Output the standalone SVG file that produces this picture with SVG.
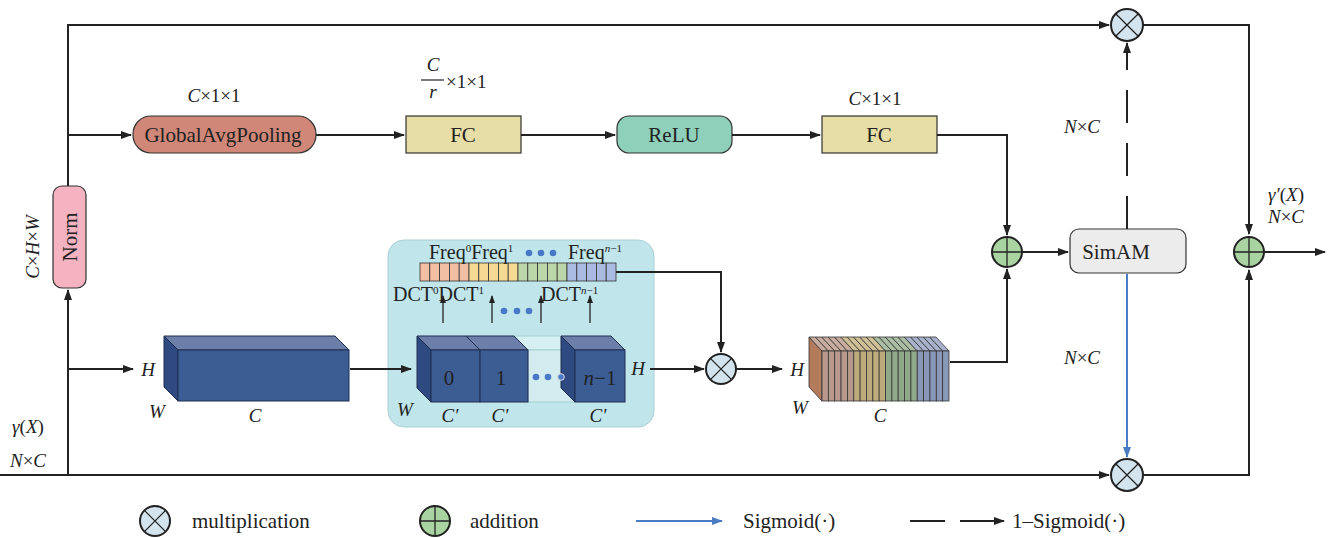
<svg xmlns="http://www.w3.org/2000/svg" width="1334" height="538" viewBox="0 0 1334 538" font-family="'Liberation Serif', 'DejaVu Serif', serif">
<defs>
<marker id="ah" markerWidth="11" markerHeight="8" refX="10" refY="4" orient="auto" markerUnits="userSpaceOnUse"><path d="M0,0 L11,4 L0,8 z" fill="#222"/></marker>
<marker id="ahs" markerWidth="8" markerHeight="6" refX="7" refY="3" orient="auto" markerUnits="userSpaceOnUse"><path d="M0,0 L8,3 L0,6 z" fill="#222"/></marker>
<marker id="ahb" markerWidth="11" markerHeight="8" refX="10" refY="4" orient="auto" markerUnits="userSpaceOnUse"><path d="M0,0 L11,4 L0,8 z" fill="#4a7cc4"/></marker>
</defs>
<style>
text{fill:#222;}
.lbl{font-size:21px;text-anchor:middle;}
.it{font-style:italic;}
.dim{font-size:19px;}
.lg{font-size:21px;}
.fq{font-size:20px;}
.ln{fill:none;stroke:#222;stroke-width:2;}
.thin{fill:none;stroke:#222;stroke-width:1.3;}
.box{stroke:#333;stroke-width:1.2;}
.mul{fill:#d3e4ef;stroke:#222;stroke-width:2;}
.add{fill:#a9d3a0;stroke:#222;stroke-width:2;}
.cf{fill:#3c5c94;stroke:#1e2e50;stroke-width:1;}
.ct{fill:#6b7fa8;stroke:#1e2e50;stroke-width:1;}
.cs{fill:#2f4a80;stroke:#1e2e50;stroke-width:1;}
.dot{fill:#4a78c8;}
</style>

<g id="norm">
<rect x="53" y="186" width="33" height="102" rx="9" fill="#f5b2c1" class="box"/>
<text x="77" y="237" class="lbl" transform="rotate(-90 77 237)">Norm</text>
<text x="39" y="247" class="dim" text-anchor="middle" transform="rotate(-90 39 247)"><tspan class="it">C</tspan>×<tspan class="it">H</tspan>×<tspan class="it">W</tspan></text>
</g>

<g id="gap">
<rect x="133" y="116" width="183" height="37" rx="18" fill="#d08778" class="box"/>
<text x="223" y="142" class="lbl">GlobalAvgPooling</text>
<text x="214" y="102" class="dim" text-anchor="middle"><tspan class="it">C</tspan>×1×1</text>
</g>

<g id="fc1">
<rect x="406" y="116" width="115" height="37" fill="#e6dea6" class="box"/>
<text x="463" y="142" class="lbl">FC</text>
<text x="433" y="71" class="dim it" text-anchor="middle">C</text>
<line x1="421" y1="80" x2="444" y2="80" stroke="#222" stroke-width="1.2"/>
<text x="433" y="98" class="dim it" text-anchor="middle">r</text>
<text x="446" y="88" class="dim">×1×1</text>
</g>

<g id="relu">
<rect x="617" y="116" width="115" height="37" rx="12" fill="#8fd0bb" class="box"/>
<text x="674" y="142" class="lbl">ReLU</text>
</g>

<g id="fc2">
<rect x="822" y="116" width="115" height="37" fill="#e6dea6" class="box"/>
<text x="879" y="142" class="lbl">FC</text>
<text x="875" y="105" class="dim" text-anchor="middle"><tspan class="it">C</tspan>×1×1</text>
</g>

<g id="input-tensor">
<polygon class="ct" points="164,336 335,336 349,350 178,350"/>
<polygon class="cs" points="164,336 178,350 178,401 164,387"/>
<rect class="cf" x="178" y="350" width="171" height="51"/>
<text x="148" y="376" class="dim it" text-anchor="middle">H</text>
<text x="157" y="418" class="dim it" text-anchor="middle">W</text>
<text x="255" y="422" class="dim it" text-anchor="middle">C</text>
</g>

<g id="dct-panel">
<rect x="388" y="240" width="266" height="187" rx="16" fill="#c0e5ea" stroke="#aacfd6" stroke-width="1"/>
<g stroke="#333" stroke-width="0.8">
<rect x="420" y="263" width="9.8" height="18" fill="#f2bfa5"/><rect x="429.8" y="263" width="9.8" height="18" fill="#f2bfa5"/><rect x="439.6" y="263" width="9.8" height="18" fill="#f2bfa5"/><rect x="449.4" y="263" width="9.8" height="18" fill="#f2bfa5"/><rect x="459.2" y="263" width="9.8" height="18" fill="#f2bfa5"/>
<rect x="469" y="263" width="9.8" height="18" fill="#f6da94"/><rect x="478.8" y="263" width="9.8" height="18" fill="#f6da94"/><rect x="488.6" y="263" width="9.8" height="18" fill="#f6da94"/><rect x="498.4" y="263" width="9.8" height="18" fill="#f6da94"/><rect x="508.2" y="263" width="9.8" height="18" fill="#f6da94"/>
<rect x="518" y="263" width="9.8" height="18" fill="#bbd7aa"/><rect x="527.8" y="263" width="9.8" height="18" fill="#bbd7aa"/><rect x="537.6" y="263" width="9.8" height="18" fill="#bbd7aa"/><rect x="547.4" y="263" width="9.8" height="18" fill="#bbd7aa"/><rect x="557.2" y="263" width="9.8" height="18" fill="#bbd7aa"/>
<rect x="567" y="263" width="9.8" height="18" fill="#a9bbe0"/><rect x="576.8" y="263" width="9.8" height="18" fill="#a9bbe0"/><rect x="586.6" y="263" width="9.8" height="18" fill="#a9bbe0"/><rect x="596.4" y="263" width="9.8" height="18" fill="#a9bbe0"/><rect x="606.2" y="263" width="9.8" height="18" fill="#a9bbe0"/>
</g>
<text x="429" y="259" class="fq">Freq<tspan font-size="11" dy="-7">0</tspan><tspan dy="7">Freq</tspan><tspan font-size="11" dy="-7">1</tspan></text>
<circle class="dot" cx="529" cy="253" r="3.3"/><circle class="dot" cx="541" cy="253" r="3.3"/><circle class="dot" cx="553" cy="253" r="3.3"/>
<text x="568" y="259" class="fq">Freq<tspan font-size="11" dy="-7" font-style="italic">n</tspan><tspan font-size="11">−1</tspan></text>
<text x="393" y="301" class="fq">DCT<tspan font-size="11" dy="-7">0</tspan><tspan dy="7">DCT</tspan><tspan font-size="11" dy="-7">1</tspan></text>
<text x="541" y="301" class="fq">DCT<tspan font-size="11" dy="-7" font-style="italic">n</tspan><tspan font-size="11">−1</tspan></text>
<circle class="dot" cx="504" cy="311" r="3.3"/><circle class="dot" cx="517" cy="311" r="3.3"/><circle class="dot" cx="529" cy="311" r="3.3"/>
<polygon points="514,336 561,336 575,350 528,350" fill="#d6eff2" stroke="#9cc" stroke-width="0.8"/>
<rect x="528" y="350" width="47" height="52" fill="#d2ecef" stroke="#9cc" stroke-width="0.8"/>
<polygon class="ct" points="417,336 466,336 480,350 431,350"/>
<polygon class="cs" points="417,336 431,350 431,402 417,388"/>
<rect class="cf" x="431" y="350" width="49" height="52"/>
<polygon class="ct" points="466,336 514,336 528,350 480,350"/>
<rect class="cf" x="480" y="350" width="48" height="52"/>
<polygon class="ct" points="561,336 611,336 625,350 575,350"/>
<polygon class="cs" points="561,336 575,350 575,402 561,388"/>
<rect class="cf" x="575" y="350" width="50" height="52"/>
<text x="449" y="385" class="lbl" fill="#111">0</text>
<text x="501" y="385" class="lbl" fill="#111">1</text>
<circle class="dot" cx="536" cy="377" r="3.3"/><circle class="dot" cx="548" cy="377" r="3.3"/><circle cx="561" cy="377" r="3.3" fill="#4a78c8" stroke="#ddd" stroke-width="1"/>
<text x="600" y="385" class="lbl" fill="#111"><tspan class="it">n</tspan>−1</text>
<text x="638" y="375" class="dim it" text-anchor="middle">H</text>
<text x="405" y="416" class="dim it" text-anchor="middle">W</text>
<text x="450" y="422" class="dim it" text-anchor="middle">C′</text>
<text x="500" y="422" class="dim it" text-anchor="middle">C′</text>
<text x="598" y="422" class="dim it" text-anchor="middle">C′</text>
</g>

<g id="mul-dct">
<circle class="mul" cx="721" cy="369" r="15"/>
<path class="thin" d="M710.4,358.4 L731.6,379.6 M731.6,358.4 L710.4,379.6"/>
</g>

<g id="freq-tensor">
<polygon points="809,337 822,351 822,401 809,387" fill="#b27b5b" stroke="#333" stroke-width="0.8"/>
<g stroke="#333" stroke-width="0.8">
<polygon points="809,337 815.35,337 828.35,351 822,351" fill="#c9aca0"/><polygon points="815.35,337 821.7,337 834.7,351 828.35,351" fill="#c9aca0"/><polygon points="821.7,337 828.05,337 841.05,351 834.7,351" fill="#c9aca0"/><polygon points="828.05,337 834.4,337 847.4,351 841.05,351" fill="#c9aca0"/><polygon points="834.4,337 840.75,337 853.75,351 847.4,351" fill="#c9aca0"/>
<polygon points="840.75,337 847.1,337 860.1,351 853.75,351" fill="#cfc195"/><polygon points="847.1,337 853.45,337 866.45,351 860.1,351" fill="#cfc195"/><polygon points="853.45,337 859.8,337 872.8,351 866.45,351" fill="#cfc195"/><polygon points="859.8,337 866.15,337 879.15,351 872.8,351" fill="#cfc195"/><polygon points="866.15,337 872.5,337 885.5,351 879.15,351" fill="#cfc195"/>
<polygon points="872.5,337 878.85,337 891.85,351 885.5,351" fill="#a9bea2"/><polygon points="878.85,337 885.2,337 898.2,351 891.85,351" fill="#a9bea2"/><polygon points="885.2,337 891.55,337 904.55,351 898.2,351" fill="#a9bea2"/><polygon points="891.55,337 897.9,337 910.9,351 904.55,351" fill="#a9bea2"/><polygon points="897.9,337 904.25,337 917.25,351 910.9,351" fill="#a9bea2"/>
<polygon points="904.25,337 910.6,337 923.6,351 917.25,351" fill="#a8b2cc"/><polygon points="910.6,337 916.95,337 929.95,351 923.6,351" fill="#a8b2cc"/><polygon points="916.95,337 923.3,337 936.3,351 929.95,351" fill="#a8b2cc"/><polygon points="923.3,337 929.65,337 942.65,351 936.3,351" fill="#a8b2cc"/><polygon points="929.65,337 936,337 949,351 942.65,351" fill="#a8b2cc"/>
<rect x="822" y="351" width="6.35" height="50" fill="#b8998c"/><rect x="828.35" y="351" width="6.35" height="50" fill="#b8998c"/><rect x="834.7" y="351" width="6.35" height="50" fill="#b8998c"/><rect x="841.05" y="351" width="6.35" height="50" fill="#b8998c"/><rect x="847.4" y="351" width="6.35" height="50" fill="#b8998c"/>
<rect x="853.75" y="351" width="6.35" height="50" fill="#bdab7c"/><rect x="860.1" y="351" width="6.35" height="50" fill="#bdab7c"/><rect x="866.45" y="351" width="6.35" height="50" fill="#bdab7c"/><rect x="872.8" y="351" width="6.35" height="50" fill="#bdab7c"/><rect x="879.15" y="351" width="6.35" height="50" fill="#bdab7c"/>
<rect x="885.5" y="351" width="6.35" height="50" fill="#90a98b"/><rect x="891.85" y="351" width="6.35" height="50" fill="#90a98b"/><rect x="898.2" y="351" width="6.35" height="50" fill="#90a98b"/><rect x="904.55" y="351" width="6.35" height="50" fill="#90a98b"/><rect x="910.9" y="351" width="6.35" height="50" fill="#90a98b"/>
<rect x="917.25" y="351" width="6.35" height="50" fill="#8a98b7"/><rect x="923.6" y="351" width="6.35" height="50" fill="#8a98b7"/><rect x="929.95" y="351" width="6.35" height="50" fill="#8a98b7"/><rect x="936.3" y="351" width="6.35" height="50" fill="#8a98b7"/><rect x="942.65" y="351" width="6.35" height="50" fill="#8a98b7"/>
</g>
<text x="797" y="376" class="dim it" text-anchor="middle">H</text>
<text x="800" y="414" class="dim it" text-anchor="middle">W</text>
<text x="880" y="422" class="dim it" text-anchor="middle">C</text>
</g>

<g id="add-mid">
<circle class="add" cx="1007" cy="252" r="15"/>
<path class="thin" d="M992,252 L1022,252 M1007,237 L1007,267"/>
</g>

<g id="simam">
<rect x="1070" y="229" width="116" height="44" rx="9" fill="#ececec" class="box"/>
<text x="1116" y="259" class="lbl">SimAM</text>
<text x="1082" y="133" class="dim" text-anchor="middle"><tspan class="it">N</tspan>×<tspan class="it">C</tspan></text>
<text x="1082" y="364" class="dim" text-anchor="middle"><tspan class="it">N</tspan>×<tspan class="it">C</tspan></text>
</g>

<g id="mul-top">
<circle class="mul" cx="1127" cy="25" r="16"/>
<path class="thin" d="M1115.7,13.7 L1138.3,36.3 M1138.3,13.7 L1115.7,36.3"/>
</g>

<g id="mul-bottom">
<circle class="mul" cx="1127" cy="475" r="16"/>
<path class="thin" d="M1115.7,463.7 L1138.3,486.3 M1138.3,463.7 L1115.7,486.3"/>
</g>

<g id="add-out">
<circle class="add" cx="1249" cy="252" r="15"/>
<path class="thin" d="M1234,252 L1264,252 M1249,237 L1249,267"/>
<text x="1286" y="201" class="dim" text-anchor="middle"><tspan class="it">γ′</tspan>(<tspan class="it">X</tspan>)</text>
<text x="1286" y="223" class="dim" text-anchor="middle"><tspan class="it">N</tspan>×<tspan class="it">C</tspan></text>
</g>

<g id="input-labels">
<text x="28" y="433" class="dim" text-anchor="middle"><tspan class="it">γ</tspan>(<tspan class="it">X</tspan>)</text>
<text x="28" y="467" class="dim" text-anchor="middle"><tspan class="it">N</tspan>×<tspan class="it">C</tspan></text>
</g>

<g id="connectors">
<polyline class="ln" points="68,186 68,25 1109,25" marker-end="url(#ah)"/>
<polyline class="ln" points="1143,25 1249,25 1249,234" marker-end="url(#ah)"/>
<line class="ln" x1="68" y1="475" x2="68" y2="290" marker-end="url(#ah)"/>
<line class="ln" x1="68" y1="135" x2="131" y2="135" marker-end="url(#ah)"/>
<line class="ln" x1="316" y1="135" x2="404" y2="135" marker-end="url(#ah)"/>
<line class="ln" x1="521" y1="135" x2="615" y2="135" marker-end="url(#ah)"/>
<line class="ln" x1="732" y1="135" x2="820" y2="135" marker-end="url(#ah)"/>
<polyline class="ln" points="937,135 1007,135 1007,235" marker-end="url(#ah)"/>
<line class="ln" x1="68" y1="369" x2="133" y2="369" marker-end="url(#ah)"/>
<line class="ln" x1="350" y1="369" x2="411" y2="369" marker-end="url(#ah)"/>
<line class="ln" x1="650" y1="369" x2="704" y2="369" marker-end="url(#ah)"/>
<polyline class="ln" points="616,272 721,272 721,352" marker-end="url(#ah)"/>
<line class="ln" x1="736" y1="369" x2="782" y2="369" marker-end="url(#ah)"/>
<polyline class="ln" points="950,362 1007,362 1007,269" marker-end="url(#ah)"/>
<line class="ln" x1="1022" y1="252" x2="1068" y2="252" marker-end="url(#ah)"/>
<line class="ln" x1="1127" y1="229" x2="1127" y2="43" stroke-dasharray="33 20" marker-end="url(#ah)"/>
<line x1="1127" y1="274" x2="1127" y2="457" stroke="#4a7cc4" stroke-width="2" marker-end="url(#ahb)"/>
<line class="ln" x1="0" y1="475" x2="1109" y2="475" marker-end="url(#ah)"/>
<polyline class="ln" points="1143,475 1249,475 1249,270" marker-end="url(#ah)"/>
<line class="ln" x1="1264" y1="252" x2="1325" y2="252" marker-end="url(#ah)"/>
<line class="thin" x1="443" y1="323" x2="443" y2="296" marker-end="url(#ahs)"/>
<line class="thin" x1="492" y1="323" x2="492" y2="296" marker-end="url(#ahs)"/>
<line class="thin" x1="541" y1="323" x2="541" y2="296" marker-end="url(#ahs)"/>
<line class="thin" x1="590" y1="323" x2="590" y2="296" marker-end="url(#ahs)"/>
</g>

<g id="legend">
<circle class="mul" cx="155" cy="521" r="15" stroke-width="1.5"/>
<path class="thin" d="M144.4,510.4 L165.6,531.6 M165.6,510.4 L144.4,531.6"/>
<text x="192" y="528" class="lg">multiplication</text>
<circle class="add" cx="435" cy="521" r="15" stroke-width="1.5"/>
<path class="thin" d="M420,521 L450,521 M435,506 L435,536"/>
<text x="470" y="528" class="lg">addition</text>
<line x1="636" y1="521" x2="722" y2="521" stroke="#4a7cc4" stroke-width="2" marker-end="url(#ahb)"/>
<text x="743" y="528" class="lg">Sigmoid(·)</text>
<line class="ln" x1="910" y1="521" x2="945" y2="521"/>
<line class="ln" x1="960" y1="521" x2="1004" y2="521" marker-end="url(#ah)"/>
<text x="1012" y="528" class="lg">1–Sigmoid(·)</text>
</g>
</svg>
